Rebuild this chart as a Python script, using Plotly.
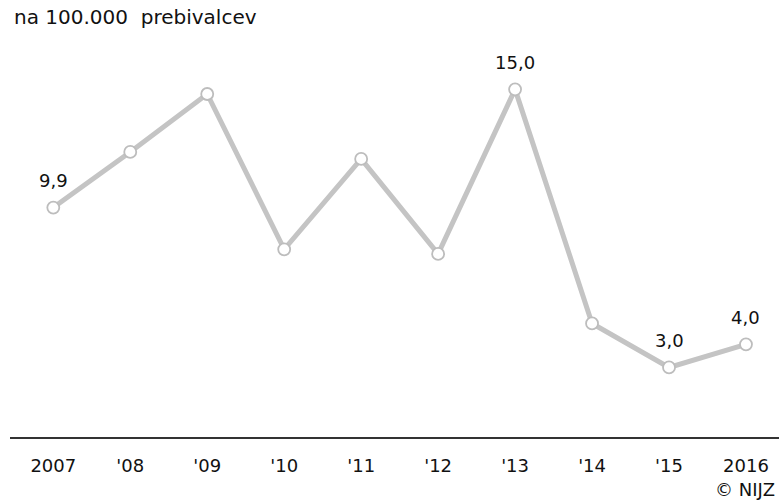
import plotly.graph_objects as go

# data
years = ["2007", "'08", "'09", "'10", "'11", "'12", "'13", "'14", "'15", "2016"]
rates = [9.9, 12.3, 14.8, 8.1, 12.0, 7.9, 15.0, 4.9, 3.0, 4.0]
labelled = [0, 6, 8, 9]  # points that carry a value label

x = list(range(len(years)))
txt_font = dict(family="DejaVu Sans", size=18, color="#111")

fig = go.Figure()
fig.add_trace(go.Scatter(
    x=x, y=rates, mode="lines+markers",
    line=dict(color="#c4c4c4", width=5),
    marker=dict(size=12, color="white", line=dict(color="#bdbdbd", width=1.8)),
    hoverinfo="skip", showlegend=False,
))

for i in labelled:
    fig.add_annotation(
        x=x[i], y=rates[i], text=f"{rates[i]:.1f}".replace(".", ","),
        showarrow=False, yshift=27, font=txt_font,
    )

fig.add_annotation(
    xref="paper", yref="paper", x=0, y=1, xanchor="left", yanchor="bottom",
    text="na 100.000 \u00a0prebivalcev", showarrow=False, xshift=2, yshift=9,
    font=dict(family="DejaVu Sans", size=20, color="#111"),
)
fig.add_annotation(
    xref="paper", yref="paper", x=1, y=0, xanchor="right", yanchor="top",
    text="© NIJZ", showarrow=False, yshift=-40, xshift=-2, font=txt_font,
)

fig.update_xaxes(
    range=[-0.5626, 9.429], tickvals=x, ticktext=years,
    showgrid=False, zeroline=False,
    showline=True, linecolor="#333", linewidth=2,
    ticks="", ticklabelstandoff=11, tickfont=txt_font,
)
fig.update_yaxes(range=[0, 17.13], visible=False)

fig.update_layout(
    width=779, height=500,
    margin=dict(l=10, r=0, t=40, b=63),
    plot_bgcolor="white", paper_bgcolor="white",
)

# drop the default 8px page margin so the figure fills the window
fig.write_html("out.html", config={"displayModeBar": False},
               post_script="document.body.style.margin='0';document.body.style.overflow='hidden';")
